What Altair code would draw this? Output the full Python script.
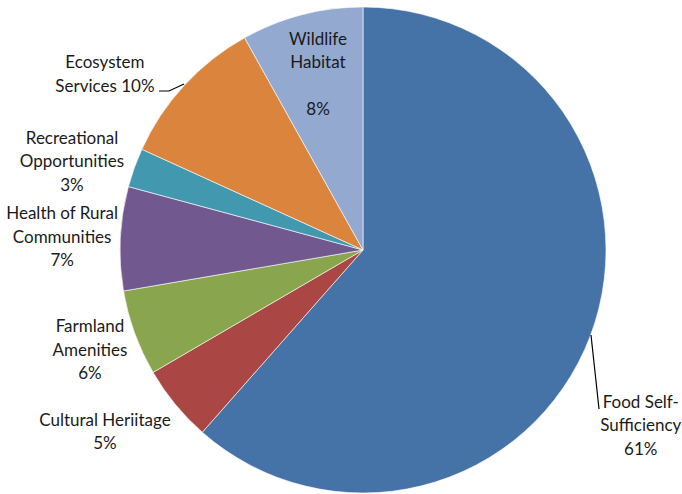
import math
import altair as alt
import pandas as pd

# ---- data ----
categories = ["Food Self-Sufficiency", "Cultural Heriitage", "Farmland Amenities",
              "Health of Rural Communities", "Recreational Opportunities",
              "Ecosystem Services", "Wildlife Habitat"]
values = [61.5, 5.1, 5.7, 6.9, 2.6, 10.1, 8.1]
label_texts = ["Food Self-\nSufficiency\n61%", "Cultural Heriitage\n5%",
               "Farmland\nAmenities\n6%", "Health of Rural\nCommunities\n7%",
               "Recreational\nOpportunities\n3%", "Ecosystem\nServices 10%",
               "Wildlife\nHabitat", "8%"]
colors = ["#4572A7", "#AA4643", "#89A54E", "#71588F", "#4198AF", "#DB843D", "#93A9CF"]

# ---- label placement: first-line anchor (degrees clockwise from top / pixel radius) ----
label_angle_deg = [118.8, 236.5, 254.25, 276.8, 290.9, 305.9, 347.9, 342.2]
label_radius_px = [317, 309.5, 283.7, 303, 311.5, 318.6, 214.8, 147]

# leader lines (pixel points)
leader_group = ["eco", "eco", "eco", "food", "food"]
leader_x = [159, 169, 184, 591, 599]
leader_y = [91, 91, 84, 335, 409]

CX, CY, R = 363, 250, 243

pie_df = pd.DataFrame({"category": categories, "value": values,
                       "order": list(range(len(categories)))})
lab_df = pd.DataFrame({"label": label_texts,
                       "theta": [math.radians(a) for a in label_angle_deg],
                       "r": label_radius_px})
lead_df = pd.DataFrame({"g": leader_group, "x": leader_x, "y": leader_y,
                        "i": list(range(len(leader_x)))})

pie = alt.Chart(pie_df).mark_arc(outerRadius=R, stroke="white", strokeWidth=0.6).encode(
    theta=alt.Theta("value:Q", stack=True),
    order=alt.Order("order:Q"),
    color=alt.Color("category:N", scale=alt.Scale(domain=categories, range=colors), legend=None),
    x=alt.value(CX), y=alt.value(CY),
)

labels = alt.Chart(lab_df).mark_text(
    font="Lato", fontSize=17, color="#1a1a1a", lineBreak="\n", lineHeight=23.5,
    align="center", baseline="middle"
).encode(
    theta=alt.Theta("theta:Q", scale=None),
    radius=alt.Radius("r:Q", scale=None),
    text="label:N",
    x=alt.value(CX), y=alt.value(CY),
)

leaders = alt.Chart(lead_df).mark_line(color="black", strokeWidth=1.2).encode(
    x=alt.X("x:Q", scale=None, axis=None),
    y=alt.Y("y:Q", scale=None, axis=None),
    detail="g:N",
    order="i:Q",
)

chart = alt.layer(pie, labels, leaders).resolve_scale(
    theta="independent", radius="independent"
).properties(
    width=682, height=494, padding=0, autosize=alt.AutoSizeParams(type="none")
).configure_view(stroke=None)

chart.save("out.html", embed_options={"renderer": "svg", "actions": False})
